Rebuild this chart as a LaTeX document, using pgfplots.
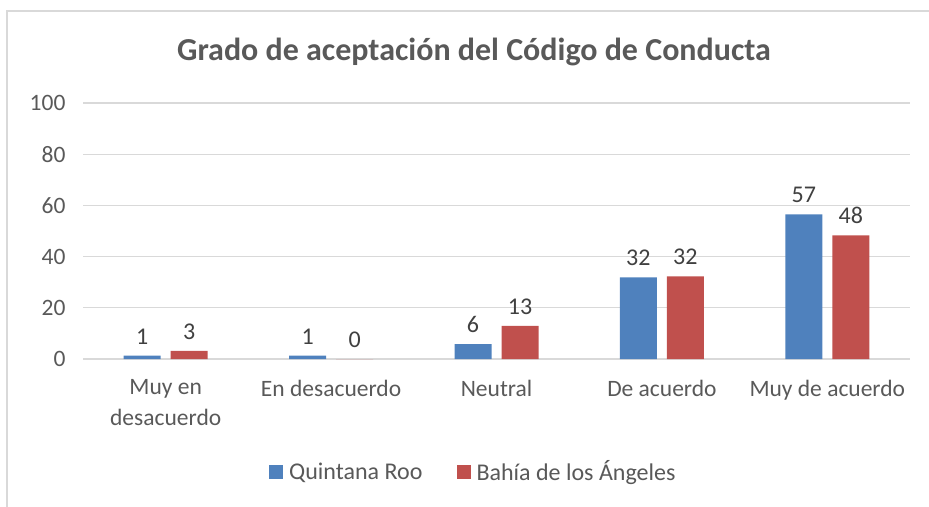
\documentclass[border=0pt]{standalone}
\usepackage{fontspec}
\setmainfont{Carlito}
\usepackage{pgfplots}
\pgfplotsset{compat=1.18}
\definecolor{qroo}{HTML}{4F81BD}
\definecolor{bahia}{HTML}{C0504D}
\definecolor{txt}{HTML}{595959}
\definecolor{lbl}{HTML}{404040}
\definecolor{grd}{HTML}{D9D9D9}
\begin{document}
\begin{tikzpicture}
\path[use as bounding box] (0pt,0pt) rectangle (929pt,-506pt);
\draw[grd, line width=1.5pt] (7pt,-540pt) -- (7pt,-11pt) -- (960pt,-11pt);
\node[font=\fontsize{32}{38}\selectfont\bfseries, text=txt] at (474pt,-52pt) {Grado de aceptación del Código de Conducta};
\begin{axis}[
    at={(83pt,-359pt)}, anchor=south west,
    scale only axis, width=827pt, height=256pt,
    ymin=0, ymax=100, ytick={0,20,...,100},
    xmin=-0.5, xmax=4.5, xtick={0,...,4},
    xticklabels={{Muy en\\desacuerdo},{En desacuerdo},{Neutral},{De acuerdo},{Muy de acuerdo}},
    ybar=10pt, bar width=37pt,
    axis line style={draw=none}, tick style={draw=none},
    ymajorgrids, grid style={grd, line width=1.3pt},
    /pgf/number format/assume math mode=true,
    ticklabel style={font=\fontsize{23.5}{31}\selectfont, text=txt},
    yticklabel style={xshift=-14pt},
    xticklabel style={align=center, yshift=-13pt},
    point meta=explicit symbolic,
    nodes near coords,
    nodes near coords style={font=\fontsize{24}{28}\selectfont, text=lbl, yshift=8pt},
    legend style={at={(0.472,-0.44)}, anchor=center, draw=none, legend columns=2,
        font=\fontsize{24}{28}\selectfont, text=txt,
        /tikz/every odd column/.append style={column sep=4pt},
        /tikz/every even column/.append style={column sep=32pt}},
    legend image code/.code={\fill[#1] (0pt,-7pt) rectangle (14pt,7pt);},
]
\addplot[fill=qroo, draw=none] coordinates {
    (0,1.3) [1]
    (1,1.3) [1]
    (2,5.8) [6]
    (3,31.9) [32]
    (4,56.5) [57]
};
\addplot[fill=bahia, draw=none] coordinates {
    (0,3.2) [3]
    (1,0) [0]
    (2,12.9) [13]
    (3,32.3) [32]
    (4,48.3) [48]
};
\legend{Quintana Roo, Bahía de los Ángeles}
\end{axis}
\end{tikzpicture}
\end{document}
